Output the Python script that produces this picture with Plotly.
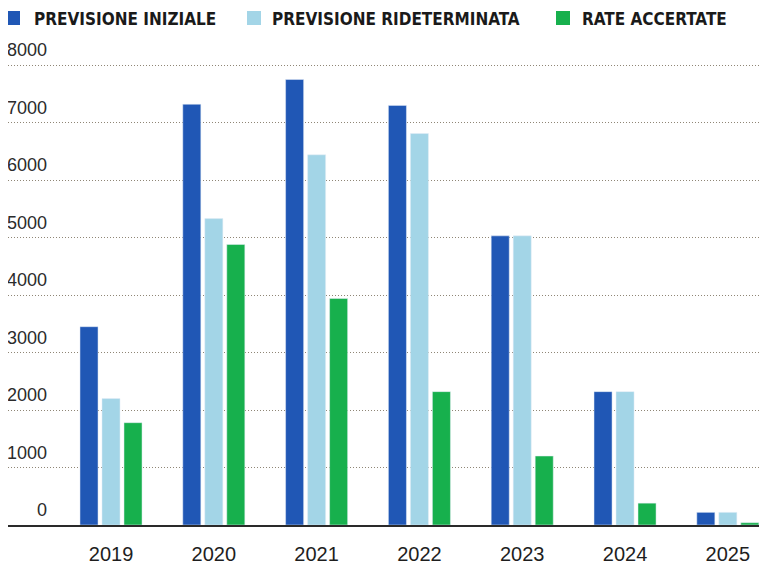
import plotly.graph_objects as go

years = ["2019", "2020", "2021", "2022", "2023", "2024", "2025"]
previsione_iniziale = [3450, 7320, 7750, 7300, 5030, 2320, 220]
previsione_rideterminata = [2200, 5330, 6440, 6810, 5030, 2320, 220]
rate_accertate = [1780, 4880, 3940, 2320, 1200, 380, 40]
y_ticks = [0, 1000, 2000, 3000, 4000, 5000, 6000, 7000, 8000]
series_names = ["PREVISIONE INIZIALE", "PREVISIONE RIDETERMINATA", "RATE ACCERTATE"]

c_pi = "#2057b5"
c_pr = "#a3d5e7"
c_ra = "#17b04d"
colors = [c_pi, c_pr, c_ra]

fig = go.Figure()
for name, vals, col in zip(series_names, [previsione_iniziale, previsione_rideterminata, rate_accertate], colors):
    fig.add_trace(go.Bar(name=name, x=years, y=vals, marker_color=col, showlegend=False))

# y tick labels placed above gridlines
for v in y_ticks:
    fig.add_annotation(x=0, xref="paper", y=v, yref="y", text=str(v), showarrow=False,
                       xanchor="right", yanchor="bottom", xshift=41, yshift=3,
                       font=dict(family="Liberation Sans, Arial", size=18, color="#2b2b2b"))

# custom legend (square + bold label)
legend_sq_x = [-2, 239, 548]
legend_txt_x = [24, 262, 572]
for name, col, sx, tx in zip(series_names, colors, legend_sq_x, legend_txt_x):
    fig.add_shape(type="rect", xref="paper", yref="paper", xsizemode="pixel", ysizemode="pixel",
                  xanchor=0, yanchor=1, x0=sx, x1=sx + 14, y0=39, y1=53,
                  fillcolor=col, line=dict(width=0))
    fig.add_annotation(x=0, xref="paper", y=1, yref="paper", text=name, showarrow=False,
                       xanchor="left", yanchor="middle", xshift=tx, yshift=45,
                       font=dict(family="DejaVu Sans Condensed, Liberation Sans Narrow, Arial", size=17,
                                 color="#1a1a1a", weight="bold"))

fig.update_layout(
    width=759, height=570,
    margin=dict(l=0, r=0, t=56, b=53),
    paper_bgcolor="white", plot_bgcolor="white",
    barmode="group", bargap=0.358, bargroupgap=0.18,
    showlegend=False,
    xaxis=dict(range=[-1.002, 6.381], showgrid=False, showline=True, linecolor="#2a2a2a", linewidth=2,
               ticks="", tickfont=dict(family="Liberation Sans, Arial", size=20, color="#1e1e1e"),
               ticklabelstandoff=10),
    yaxis=dict(range=[0, 8020], tickvals=y_ticks, showticklabels=False, showgrid=True,
               gridcolor="#8f8676", griddash="1px,2px", gridwidth=1, zeroline=False),
)

fig.write_html("out.html")
